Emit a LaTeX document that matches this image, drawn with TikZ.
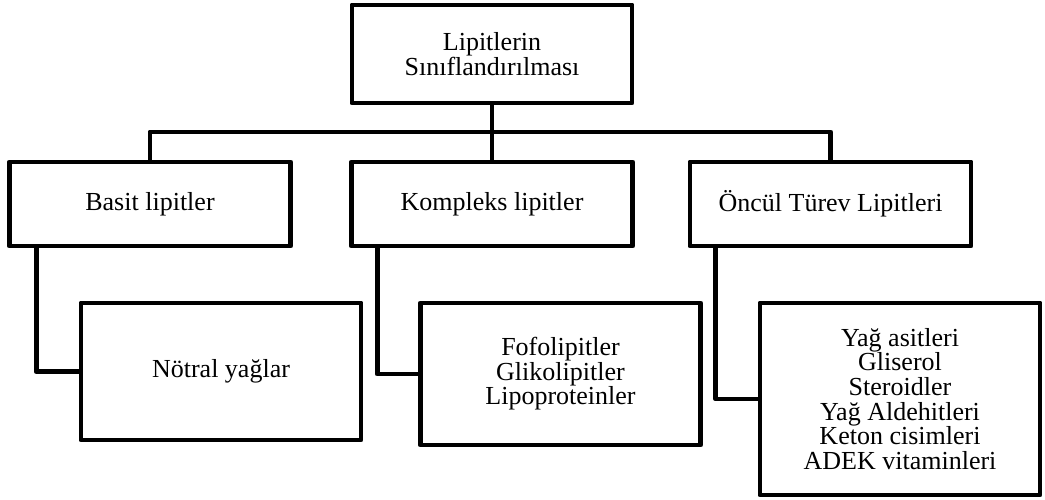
\documentclass[tikz,border=0pt]{standalone}
\usepackage{fontspec}
\setmainfont{Liberation Serif}
\usetikzlibrary{positioning,calc}

\begin{document}
\begin{tikzpicture}[
    font=\fontsize{14.8}{14}\selectfont,
    box/.style={draw=black, line width=2.8pt, line join=round, fill=white, align=center, inner sep=2pt},
    headbox/.style={box, minimum width=5.6cm, minimum height=1.96cm},
    groupbox/.style={box, minimum width=5.62cm, minimum height=1.68cm},
    itembox/.style={box, minimum width=5.6cm},
    link/.style={draw=black, line width=2.8pt, line join=round}
]
\useasboundingbox (0,0) rectangle (20.9,-10);

\node[headbox] (root) at (9.84,-1.08) {Lipitlerin\\Sınıflandırılması};

\node[groupbox] (basit) at (3.00,-4.08) {Basit lipitler};
\node[groupbox] (kompleks) at (9.84,-4.08) {Kompleks lipitler};
\node[groupbox] (oncul) at (16.61,-4.08) {Öncül Türev Lipitleri};

\node[itembox, minimum height=2.74cm] (notral) at (4.42,-7.43) {Nötral yağlar};
\node[itembox, minimum height=2.84cm] (fosfo) at (11.21,-7.48) {Fofolipitler\\Glikolipitler\\Lipoproteinler};
\node[itembox, minimum height=3.84cm] (turev) at (18.00,-7.98) {Yağ asitleri\\Gliserol\\Steroidler\\Yağ Aldehitleri\\Keton cisimleri\\ADEK vitaminleri};

% bus between the levels
\coordinate (bus) at (9.84,-2.64);
\draw[link] (root) -- (kompleks);
\draw[link] (basit.north) |- (bus) -| (oncul.north);

\draw[link] ([xshift=0.58cm]basit.south west) |- (notral.west);
\draw[link] ([xshift=0.56cm]kompleks.south west) |- (fosfo.west);
\draw[link] ([xshift=0.56cm]oncul.south west) |- (turev.west);
\end{tikzpicture}
\end{document}
